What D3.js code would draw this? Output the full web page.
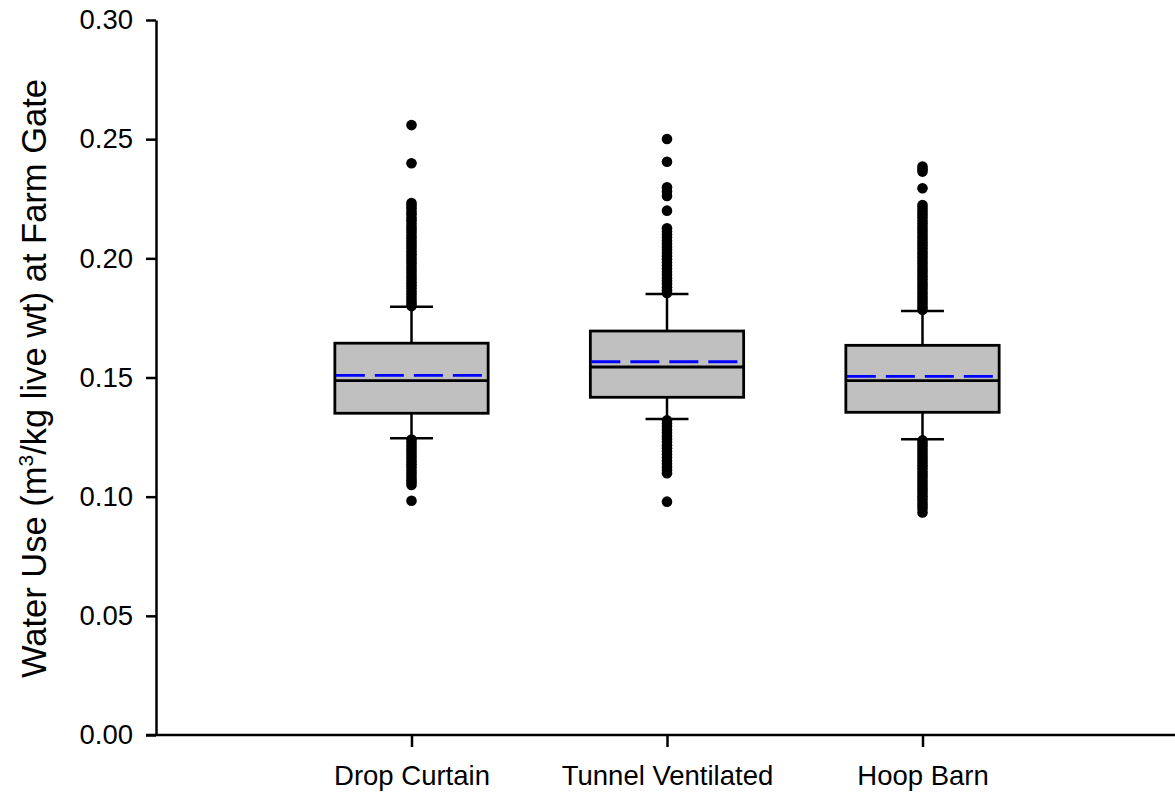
<!DOCTYPE html>
<html>
<head>
<meta charset="utf-8">
<script src="https://cdn.jsdelivr.net/npm/d3@7"></script>
<style>
  html, body { margin: 0; padding: 0; background: #fff; }
  svg { display: block; font-family: Arial, "Liberation Sans", sans-serif; }
</style>
</head>
<body>
<svg id="chart" width="1175" height="795"></svg>
<script>
// ---- data ----
const categories = ["Drop Curtain", "Tunnel Ventilated", "Hoop Barn"];
const q1 = [0.1350, 0.1417, 0.1354];
const medians = [0.1487, 0.1544, 0.1487];
const q3 = [0.1644, 0.1695, 0.1635];
const means = [0.1509, 0.1566, 0.1505];
const lowerWhiskers = [0.1245, 0.1326, 0.1241];
const upperWhiskers = [0.1797, 0.1850, 0.1779];
const outliersDropCurtain = [
  0.2559, 0.2399,
  0.2232, 0.2222, 0.2210, 0.2197, 0.2185, 0.2171, 0.2160, 0.2146, 0.2133, 0.2121,
  0.2108, 0.2094, 0.2082, 0.2069, 0.2056, 0.2043, 0.2030, 0.2017, 0.2004, 0.1991,
  0.1978, 0.1965, 0.1952, 0.1939, 0.1926, 0.1913, 0.1900, 0.1887, 0.1874, 0.1861,
  0.1848, 0.1835, 0.1822, 0.1810, 0.1800,
  0.1240, 0.1227, 0.1214, 0.1201, 0.1188, 0.1175, 0.1162, 0.1149, 0.1136, 0.1123,
  0.1110, 0.1097, 0.1084, 0.1071, 0.1060, 0.1049,
  0.0983
];
const outliersTunnelVentilated = [
  0.2501, 0.2405, 0.2298, 0.2280, 0.2262, 0.2200,
  0.2126, 0.2113, 0.2100, 0.2087, 0.2074, 0.2061, 0.2048, 0.2035, 0.2022, 0.2009,
  0.1996, 0.1983, 0.1970, 0.1957, 0.1944, 0.1931, 0.1918, 0.1905, 0.1892, 0.1879,
  0.1866, 0.1855,
  0.1320, 0.1307, 0.1294, 0.1281, 0.1268, 0.1255, 0.1242, 0.1229, 0.1216, 0.1203,
  0.1190, 0.1177, 0.1164, 0.1151, 0.1138, 0.1125, 0.1112, 0.1098,
  0.0979
];
const outliersHoopBarn = [
  0.2385, 0.2374, 0.2364, 0.2294,
  0.2224, 0.2211, 0.2198, 0.2185, 0.2172, 0.2159, 0.2146, 0.2133, 0.2120, 0.2107,
  0.2094, 0.2081, 0.2068, 0.2055, 0.2042, 0.2029, 0.2016, 0.2003, 0.1990, 0.1977,
  0.1964, 0.1951, 0.1938, 0.1925, 0.1912, 0.1899, 0.1886, 0.1873, 0.1860, 0.1847,
  0.1834, 0.1821, 0.1808, 0.1795, 0.1784,
  0.1236, 0.1223, 0.1210, 0.1197, 0.1184, 0.1171, 0.1158, 0.1145, 0.1132, 0.1119,
  0.1106, 0.1093, 0.1080, 0.1067, 0.1054, 0.1041, 0.1028, 0.1015, 0.1002, 0.0989,
  0.0976, 0.0963, 0.0950, 0.0934
];
const outliers = [outliersDropCurtain, outliersTunnelVentilated, outliersHoopBarn];
const yTicks = [0.00, 0.05, 0.10, 0.15, 0.20, 0.25, 0.30];

// ---- layout ----
const svg = d3.select("#chart");
const x = d3.scalePoint().domain(categories).range([156, 1178]).padding(1);
const y = d3.scaleLinear().domain([0, 0.30]).range([735, 20]);
const boxW = x.step() * 0.6;
const capW = boxW * 0.28;
const lw = 2.5;

// axes
const yAxis = svg.append("g").attr("transform", "translate(156,0)")
  .call(d3.axisLeft(y).tickValues(yTicks).tickFormat(d3.format(".2f")).tickSize(10).tickPadding(13).tickSizeOuter(0));
const xAxis = svg.append("g").attr("transform", "translate(0,735)")
  .call(d3.axisBottom(x).tickSize(12).tickPadding(18).tickSizeOuter(0));
[yAxis, xAxis].forEach(g => {
  g.select(".domain").attr("stroke", "#000").attr("stroke-width", lw);
  g.selectAll(".tick line").attr("stroke", "#000").attr("stroke-width", lw);
  g.selectAll(".tick text").attr("fill", "#000").style("font-family", "Arial, 'Liberation Sans', sans-serif");
});
yAxis.selectAll(".tick text").style("font-size", "27.5px");
xAxis.selectAll(".tick text").style("font-size", "27.5px");
// extend x axis line left to meet the 0.00 tick
xAxis.select(".domain").attr("d", "M146,0H1178");

// y axis title
const title = svg.append("text")
  .attr("transform", `translate(46,${(82 + 675) / 2}) rotate(-90)`)
  .attr("text-anchor", "middle")
  .style("font-size", "34.5px")
  .attr("fill", "#000");
title.append("tspan").text("Water Use (m");
title.append("tspan").text("3").style("font-size", "21px").attr("dy", "-13");
title.append("tspan").text("/kg live wt) at Farm Gate").attr("dy", "13");

// boxes
const g = svg.append("g");
categories.forEach((c, i) => {
  const cx = x(c);
  // whiskers
  g.append("line").attr("x1", cx).attr("x2", cx).attr("y1", y(q3[i])).attr("y2", y(upperWhiskers[i]))
    .attr("stroke", "#000").attr("stroke-width", lw);
  g.append("line").attr("x1", cx).attr("x2", cx).attr("y1", y(q1[i])).attr("y2", y(lowerWhiskers[i]))
    .attr("stroke", "#000").attr("stroke-width", lw);
  g.append("line").attr("x1", cx - capW / 2).attr("x2", cx + capW / 2).attr("y1", y(upperWhiskers[i])).attr("y2", y(upperWhiskers[i]))
    .attr("stroke", "#000").attr("stroke-width", lw);
  g.append("line").attr("x1", cx - capW / 2).attr("x2", cx + capW / 2).attr("y1", y(lowerWhiskers[i])).attr("y2", y(lowerWhiskers[i]))
    .attr("stroke", "#000").attr("stroke-width", lw);
  // box
  g.append("rect").attr("x", cx - boxW / 2).attr("y", y(q3[i])).attr("width", boxW).attr("height", y(q1[i]) - y(q3[i]))
    .attr("fill", "#c0c0c0").attr("stroke", "#000").attr("stroke-width", 2.8);
  // median
  g.append("line").attr("x1", cx - boxW / 2).attr("x2", cx + boxW / 2).attr("y1", y(medians[i])).attr("y2", y(medians[i]))
    .attr("stroke", "#000").attr("stroke-width", 2.8);
  // mean
  g.append("line").attr("x1", cx - boxW / 2 + 1).attr("x2", cx + boxW / 2 - 1).attr("y1", y(means[i])).attr("y2", y(means[i]))
    .attr("stroke", "#0000ff").attr("stroke-width", 2.8).attr("stroke-dasharray", "29,10");
  // outliers
  g.selectAll(null).data(outliers[i]).enter().append("circle")
    .attr("cx", cx).attr("cy", d => y(d)).attr("r", 5.3).attr("fill", "#000");
});
</script>
</body>
</html>
